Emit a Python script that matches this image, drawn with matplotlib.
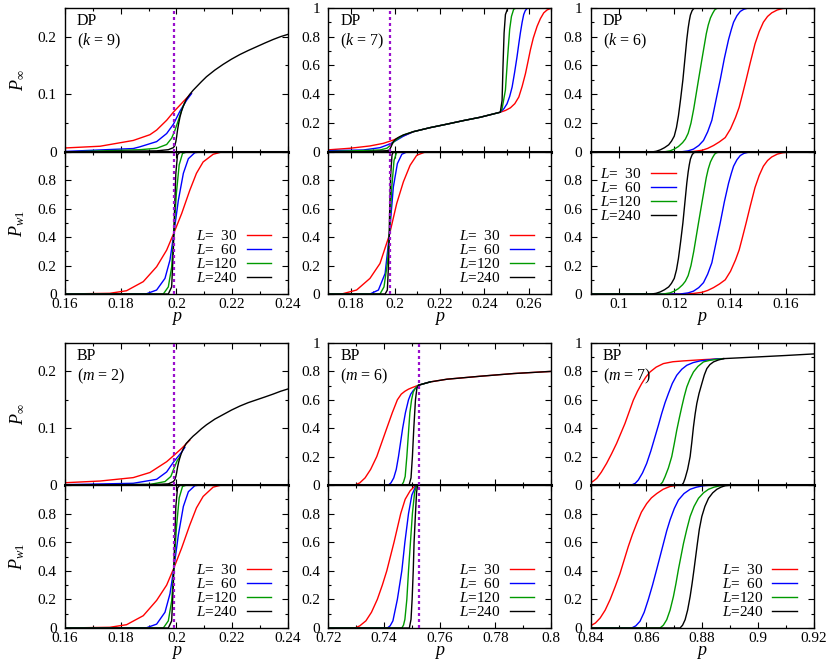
import numpy as np
import matplotlib.pyplot as plt
from matplotlib.ticker import MultipleLocator, FuncFormatter

plt.rcParams['font.family'] = ['Liberation Serif', 'DejaVu Serif']
plt.rcParams['mathtext.fontset'] = 'custom'
plt.rcParams['mathtext.rm'] = 'Liberation Serif'
plt.rcParams['mathtext.it'] = 'Liberation Serif:italic'

SIZES = [30, 60, 120, 240]
COLORS = ['#ff0000', '#0000ff', '#009a00', '#000000']
PC_COLOR = '#9a10cc'

# ---- DP, k = 9 ----
DP9_INF_30 = [(0.16, 0.007), (0.1726, 0.010), (0.1845, 0.020), (0.1905, 0.030), (0.1929, 0.038),
              (0.1965, 0.055), (0.1989, 0.069), (0.2024, 0.087), (0.2054, 0.102)]
DP9_INF_60 = [(0.16, 0.001), (0.1845, 0.006), (0.1869, 0.009), (0.1929, 0.018), (0.1965, 0.032),
              (0.1989, 0.048), (0.2013, 0.071), (0.2037, 0.090), (0.2054, 0.101)]
DP9_INF_120 = [(0.16, 0.0), (0.1869, 0.004), (0.1929, 0.0064), (0.1965, 0.013), (0.1983, 0.024),
               (0.1995, 0.038), (0.2007, 0.055), (0.2019, 0.073), (0.2030, 0.086)]
DP9_INF_240 = [(0.16, 0.0), (0.1929, 0.002), (0.1971, 0.004), (0.1989, 0.0075), (0.1994, 0.011),
               (0.1998, 0.018), (0.2001, 0.027), (0.2004, 0.038), (0.2008, 0.049), (0.2013, 0.061),
               (0.2018, 0.070), (0.2024, 0.0785), (0.2035, 0.091), (0.2048, 0.100), (0.2060, 0.107),
               (0.2072, 0.113), (0.2090, 0.122), (0.2108, 0.1305), (0.2138, 0.142), (0.2168, 0.152),
               (0.2198, 0.161), (0.2228, 0.169), (0.2258, 0.176), (0.2288, 0.1825), (0.2318, 0.189),
               (0.2347, 0.195), (0.2374, 0.200), (0.2401, 0.204)]
DP9_W1_30 = [(0.16, 0.0), (0.1761, 0.005), (0.1821, 0.023), (0.1881, 0.087), (0.1929, 0.192),
             (0.1965, 0.309), (0.1991, 0.43), (0.2019, 0.567), (0.2048, 0.73), (0.2072, 0.85),
             (0.2096, 0.93), (0.2132, 0.984), (0.2162, 1.0), (0.24, 1.0)]
DP9_W1_60 = [(0.16, 0.0), (0.1893, 0.002), (0.1929, 0.028), (0.1959, 0.11), (0.1977, 0.24),
             (0.1991, 0.43), (0.2007, 0.66), (0.2025, 0.85), (0.2043, 0.953), (0.2066, 0.995),
             (0.2085, 1.0), (0.24, 1.0)]
DP9_W1_120 = [(0.16, 0.0), (0.1953, 0.0), (0.1971, 0.05), (0.1983, 0.19), (0.1991, 0.43),
              (0.2000, 0.71), (0.2010, 0.91), (0.2022, 0.99), (0.2037, 1.0), (0.24, 1.0)]
DP9_W1_240 = [(0.16, 0.0), (0.1971, 0.0), (0.1983, 0.05), (0.1989, 0.31), (0.1993, 0.57),
              (0.1998, 0.85), (0.2004, 0.98), (0.2013, 1.0), (0.24, 1.0)]

# ---- DP, k = 7 ----
DP7_INF_30 = [(0.17, 0.015), (0.1798, 0.026), (0.1887, 0.042), (0.1947, 0.060), (0.1992, 0.083),
              (0.2022, 0.102), (0.2082, 0.141), (0.2157, 0.169), (0.2232, 0.193), (0.2307, 0.218),
              (0.2382, 0.241), (0.2472, 0.276), (0.2495, 0.288), (0.2517, 0.306), (0.2537, 0.335),
              (0.2555, 0.381), (0.2570, 0.455), (0.2585, 0.544), (0.2596, 0.625), (0.2607, 0.708),
              (0.2620, 0.79), (0.2637, 0.871), (0.2652, 0.925), (0.2667, 0.965), (0.2682, 0.985),
              (0.2697, 0.995), (0.27, 1.0)]
DP7_INF_60 = [(0.17, 0.009), (0.1857, 0.014), (0.1932, 0.030), (0.1977, 0.056), (0.2008, 0.083),
              (0.2037, 0.110), (0.2082, 0.141), (0.2157, 0.169), (0.2232, 0.193), (0.2307, 0.218),
              (0.2382, 0.241), (0.2472, 0.276), (0.2488, 0.300), (0.2502, 0.334), (0.2514, 0.385),
              (0.2525, 0.45), (0.2536, 0.55), (0.2547, 0.66), (0.2555, 0.75), (0.2562, 0.825),
              (0.2570, 0.90), (0.2577, 0.953), (0.2584, 0.98), (0.2592, 0.995), (0.2605, 1.0), (0.27, 1.0)]
DP7_INF_120 = [(0.17, 0.003), (0.1932, 0.014), (0.1963, 0.026), (0.1981, 0.049), (0.2000, 0.079),
               (0.2020, 0.100), (0.2037, 0.118), (0.2082, 0.141), (0.2157, 0.169), (0.2232, 0.193),
               (0.2307, 0.218), (0.2382, 0.241), (0.2472, 0.276), (0.2480, 0.30), (0.2495, 0.43),
               (0.2505, 0.66), (0.2514, 0.85), (0.2522, 0.94), (0.2532, 0.99), (0.2545, 1.0), (0.27, 1.0)]
DP7_INF_240 = [(0.17, 0.0), (0.1857, 0.002), (0.1963, 0.009), (0.1974, 0.014), (0.1982, 0.037),
               (0.1987, 0.056), (0.1992, 0.072), (0.2000, 0.086), (0.2008, 0.095), (0.2020, 0.106),
               (0.2037, 0.118), (0.2082, 0.141), (0.2157, 0.169), (0.2232, 0.193), (0.2307, 0.218),
               (0.2382, 0.241), (0.2472, 0.276), (0.2480, 0.357), (0.2484, 0.591), (0.2489, 0.825),
               (0.2495, 0.953), (0.2505, 0.995), (0.2515, 1.0), (0.27, 1.0)]
DP7_W1_30 = [(0.17, 0.0), (0.1760, 0.0), (0.1827, 0.028), (0.1887, 0.11), (0.1932, 0.215),
             (0.1974, 0.415), (0.2007, 0.637), (0.2037, 0.79), (0.2067, 0.906), (0.2097, 0.977),
             (0.2135, 1.0), (0.27, 1.0)]
DP7_W1_60 = [(0.17, 0.0), (0.1887, 0.0), (0.1925, 0.028), (0.1955, 0.145), (0.1974, 0.415),
             (0.1992, 0.754), (0.2010, 0.918), (0.2030, 0.984), (0.2052, 1.0), (0.27, 1.0)]
DP7_W1_120 = [(0.17, 0.0), (0.1932, 0.0), (0.1950, 0.05), (0.1965, 0.215), (0.1974, 0.415),
              (0.1985, 0.754), (0.1995, 0.94), (0.2007, 1.0), (0.27, 1.0)]
DP7_W1_240 = [(0.17, 0.0), (0.1955, 0.0), (0.1965, 0.028), (0.1971, 0.23), (0.1975, 0.56),
              (0.1980, 0.84), (0.1986, 0.98), (0.1992, 1.0), (0.27, 1.0)]

# ---- DP, k = 6 (P_inf and P_w1 read the same) ----
DP6_30 = [(0.09, 0.0), (0.1240, 0.0), (0.1270, 0.004), (0.1300, 0.012), (0.1320, 0.025), (0.1341, 0.045),
          (0.1362, 0.07), (0.1383, 0.10), (0.1402, 0.16), (0.1420, 0.24), (0.1433, 0.31), (0.1445, 0.40),
          (0.1458, 0.50), (0.1473, 0.62), (0.1490, 0.75), (0.1505, 0.835), (0.1520, 0.90), (0.1535, 0.94),
          (0.1550, 0.965), (0.1570, 0.985), (0.1590, 0.995), (0.1620, 1.0), (0.17, 1.0)]
DP6_60 = [(0.09, 0.0), (0.1221, 0.0), (0.1250, 0.008), (0.1269, 0.02), (0.1288, 0.045), (0.1305, 0.08),
          (0.1320, 0.14), (0.1335, 0.22), (0.1352, 0.38), (0.1365, 0.50), (0.1380, 0.65), (0.1395, 0.78),
          (0.1405, 0.85), (0.1413, 0.90), (0.1425, 0.945), (0.1437, 0.975), (0.1450, 0.99), (0.1465, 0.998),
          (0.1480, 1.0), (0.17, 1.0)]
DP6_120 = [(0.09, 0.0), (0.1161, 0.0), (0.1185, 0.008), (0.1200, 0.02), (0.1215, 0.038), (0.1230, 0.065),
           (0.1240, 0.09), (0.1250, 0.13), (0.1260, 0.20), (0.1270, 0.30), (0.1287, 0.50), (0.1300, 0.65),
           (0.1315, 0.82), (0.1322, 0.88), (0.1330, 0.93), (0.1338, 0.962), (0.1345, 0.985), (0.1352, 0.995),
           (0.1362, 1.0), (0.17, 1.0)]
DP6_240 = [(0.09, 0.0), (0.1119, 0.0), (0.1135, 0.005), (0.1150, 0.015), (0.1165, 0.03), (0.1180, 0.05),
           (0.1190, 0.075), (0.1200, 0.11), (0.1208, 0.17), (0.1215, 0.25), (0.1223, 0.37), (0.1231, 0.50),
           (0.1240, 0.68), (0.1245, 0.78), (0.1250, 0.86), (0.1254, 0.91), (0.1258, 0.95), (0.1264, 0.98),
           (0.1270, 0.995), (0.1280, 1.0), (0.17, 1.0)]

# ---- BP, m = 2 ----
BP2_INF_30 = [(0.16, 0.004), (0.1726, 0.007), (0.1845, 0.013), (0.1905, 0.022), (0.1965, 0.041),
              (0.1993, 0.053), (0.2020, 0.065), (0.2048, 0.079)]
BP2_INF_60 = [(0.16, 0.0006), (0.1845, 0.003), (0.1929, 0.010), (0.1965, 0.023), (0.1989, 0.040),
              (0.2019, 0.058), (0.2030, 0.066)]
BP2_INF_120 = [(0.16, 0.0), (0.1905, 0.001), (0.1959, 0.006), (0.1980, 0.015), (0.1991, 0.029),
               (0.2003, 0.043), (0.2013, 0.050)]
BP2_INF_240 = [(0.16, 0.0), (0.1930, 0.001), (0.1971, 0.002), (0.1989, 0.006), (0.1994, 0.009),
               (0.1998, 0.015), (0.2001, 0.022), (0.2004, 0.031), (0.2008, 0.040), (0.2013, 0.049),
               (0.2018, 0.056), (0.2024, 0.063), (0.2035, 0.073), (0.2048, 0.080), (0.2060, 0.086),
               (0.2072, 0.091), (0.2090, 0.099), (0.2108, 0.106), (0.2138, 0.116), (0.2168, 0.124),
               (0.2198, 0.132), (0.2228, 0.139), (0.2258, 0.145), (0.2288, 0.150), (0.2318, 0.155),
               (0.2347, 0.160), (0.2374, 0.165), (0.24, 0.169)]
BP2_W1_30 = [(0.16, 0.0), (0.1761, 0.005), (0.1821, 0.023), (0.1881, 0.086), (0.1929, 0.193),
             (0.1965, 0.30), (0.1991, 0.42), (0.2019, 0.56), (0.2048, 0.72), (0.2072, 0.84),
             (0.2096, 0.92), (0.2132, 0.985), (0.2162, 1.0), (0.24, 1.0)]
BP2_W1_60 = [(0.16, 0.0), (0.1893, 0.002), (0.1929, 0.027), (0.1959, 0.11), (0.1977, 0.24),
             (0.1991, 0.42), (0.2007, 0.65), (0.2025, 0.85), (0.2043, 0.953), (0.2066, 0.995),
             (0.2085, 1.0), (0.24, 1.0)]
BP2_W1_120 = [(0.16, 0.0), (0.1953, 0.0), (0.1971, 0.05), (0.1983, 0.19), (0.1991, 0.42),
              (0.2000, 0.70), (0.2010, 0.91), (0.2022, 0.99), (0.2037, 1.0), (0.24, 1.0)]
BP2_W1_240 = [(0.16, 0.0), (0.1971, 0.0), (0.1983, 0.05), (0.1989, 0.30), (0.1993, 0.56),
              (0.1998, 0.85), (0.2004, 0.98), (0.2013, 1.0), (0.24, 1.0)]

# ---- BP, m = 6 ----
BP6_INF_30 = [(0.72, 0.0), (0.7296, 0.0), (0.7313, 0.015), (0.7332, 0.05), (0.7352, 0.11), (0.7374, 0.20),
              (0.7392, 0.30), (0.7410, 0.40), (0.7430, 0.51), (0.7448, 0.60), (0.7462, 0.64), (0.7475, 0.66),
              (0.7488, 0.675), (0.7500, 0.685), (0.7524, 0.703), (0.7566, 0.726), (0.7626, 0.745),
              (0.7746, 0.766), (0.7866, 0.785), (0.80, 0.80)]
BP6_INF_60 = [(0.72, 0.0), (0.7416, 0.0), (0.7425, 0.015), (0.7435, 0.05), (0.7444, 0.11), (0.7452, 0.20),
              (0.7467, 0.40), (0.7477, 0.51), (0.7488, 0.60), (0.7496, 0.64), (0.7505, 0.665),
              (0.7524, 0.703), (0.7566, 0.726)]
BP6_INF_120 = [(0.72, 0.0), (0.7464, 0.0), (0.7470, 0.02), (0.7476, 0.06), (0.7482, 0.20), (0.7489, 0.40),
               (0.7493, 0.51), (0.7499, 0.60), (0.7505, 0.655), (0.7512, 0.68), (0.7524, 0.703),
               (0.7566, 0.726)]
BP6_INF_240 = [(0.72, 0.0), (0.7490, 0.0), (0.7497, 0.05), (0.7502, 0.20), (0.7507, 0.40), (0.7510, 0.50),
               (0.7513, 0.60), (0.7518, 0.68), (0.7524, 0.703), (0.7566, 0.726), (0.7626, 0.745),
               (0.7746, 0.766), (0.7866, 0.785), (0.80, 0.80)]
BP6_W1_30 = [(0.72, 0.0), (0.7296, 0.0), (0.7313, 0.015), (0.7335, 0.05), (0.7355, 0.11), (0.7376, 0.20),
             (0.7394, 0.30), (0.7410, 0.40), (0.7423, 0.50), (0.7436, 0.60), (0.7448, 0.70), (0.7460, 0.80),
             (0.7476, 0.90), (0.7494, 0.96), (0.7507, 0.985), (0.7520, 1.0), (0.80, 1.0)]
BP6_W1_60 = [(0.72, 0.0), (0.7412, 0.0), (0.7422, 0.015), (0.7432, 0.05), (0.7448, 0.20), (0.7464, 0.40),
             (0.7475, 0.60), (0.7488, 0.80), (0.7500, 0.93), (0.7516, 1.0), (0.80, 1.0)]
BP6_W1_120 = [(0.72, 0.0), (0.7464, 0.0), (0.7470, 0.02), (0.7475, 0.06), (0.7482, 0.20), (0.7488, 0.40),
              (0.7495, 0.60), (0.7502, 0.80), (0.7510, 0.95), (0.7518, 1.0), (0.80, 1.0)]
BP6_W1_240 = [(0.72, 0.0), (0.7491, 0.0), (0.7497, 0.06), (0.7501, 0.20), (0.7505, 0.40), (0.7508, 0.60),
              (0.7513, 0.80), (0.7517, 0.95), (0.7521, 1.0), (0.80, 1.0)]

# ---- BP, m = 7 ----
BP7_INF_30 = [(0.84, 0.016), (0.8410, 0.028), (0.8422, 0.047), (0.8438, 0.09), (0.8457, 0.152),
              (0.8475, 0.22), (0.8493, 0.293), (0.8523, 0.433), (0.8538, 0.515), (0.8553, 0.597),
              (0.8568, 0.66), (0.8583, 0.714), (0.8598, 0.76), (0.8613, 0.796), (0.8635, 0.83),
              (0.8661, 0.855), (0.8695, 0.868), (0.8733, 0.874), (0.8805, 0.883), (0.8877, 0.890)]
BP7_INF_60 = [(0.84, 0.0), (0.8547, 0.0), (0.8560, 0.012), (0.8571, 0.035), (0.8586, 0.085), (0.8601, 0.152),
              (0.8616, 0.24), (0.8631, 0.34), (0.8643, 0.42), (0.8655, 0.504), (0.8667, 0.58),
              (0.8679, 0.644), (0.8693, 0.715), (0.8709, 0.773), (0.8727, 0.815), (0.8745, 0.843),
              (0.8768, 0.862), (0.8793, 0.874), (0.8853, 0.888), (0.8877, 0.890)]
BP7_INF_120 = [(0.84, 0.0), (0.8649, 0.0), (0.8658, 0.02), (0.8667, 0.059), (0.8679, 0.12), (0.8691, 0.20),
               (0.8700, 0.29), (0.8709, 0.386), (0.8718, 0.47), (0.8727, 0.55), (0.8736, 0.625),
               (0.8745, 0.69), (0.8756, 0.745), (0.8769, 0.796), (0.8785, 0.835), (0.8805, 0.867),
               (0.8828, 0.878), (0.8853, 0.885), (0.8877, 0.890)]
BP7_INF_240 = [(0.84, 0.0), (0.8727, 0.0), (0.8733, 0.015), (0.8739, 0.047), (0.8748, 0.11), (0.8757, 0.20),
               (0.8763, 0.30), (0.8769, 0.41), (0.8775, 0.50), (0.8781, 0.574), (0.8789, 0.645),
               (0.8799, 0.714), (0.8808, 0.775), (0.8817, 0.82), (0.8828, 0.848), (0.8841, 0.867),
               (0.8858, 0.880), (0.8877, 0.890), (0.90, 0.902), (0.91, 0.912), (0.92, 0.923)]
BP7_W1_30 = [(0.84, 0.016), (0.8417, 0.035), (0.8434, 0.07), (0.8452, 0.125), (0.8470, 0.20),
             (0.8488, 0.29), (0.8505, 0.38), (0.8520, 0.475), (0.8535, 0.57), (0.8550, 0.655),
             (0.8565, 0.73), (0.8582, 0.81), (0.8601, 0.87), (0.8618, 0.91), (0.8637, 0.94),
             (0.8660, 0.97), (0.8685, 0.99), (0.8710, 0.998), (0.8733, 1.0), (0.92, 1.0)]
BP7_W1_60 = [(0.84, 0.0), (0.8547, 0.0), (0.8562, 0.015), (0.8577, 0.047), (0.8592, 0.11), (0.8607, 0.20),
             (0.8622, 0.30), (0.8637, 0.41), (0.8649, 0.50), (0.8661, 0.59), (0.8673, 0.68),
             (0.8685, 0.756), (0.8700, 0.835), (0.8715, 0.895), (0.8735, 0.94), (0.8757, 0.97),
             (0.8780, 0.985), (0.8805, 0.995), (0.8840, 1.0), (0.92, 1.0)]
BP7_W1_120 = [(0.84, 0.0), (0.8649, 0.0), (0.8661, 0.02), (0.8673, 0.058), (0.8685, 0.125), (0.8697, 0.22),
              (0.8706, 0.31), (0.8715, 0.41), (0.8724, 0.50), (0.8733, 0.59), (0.8745, 0.69),
              (0.8757, 0.78), (0.8771, 0.85), (0.8787, 0.907), (0.8805, 0.945), (0.8823, 0.97),
              (0.8843, 0.985), (0.8865, 0.995), (0.8900, 1.0), (0.92, 1.0)]
BP7_W1_240 = [(0.84, 0.0), (0.8721, 0.0), (0.8730, 0.02), (0.8739, 0.058), (0.8748, 0.125), (0.8757, 0.22),
              (0.8764, 0.31), (0.8771, 0.41), (0.8777, 0.50), (0.8783, 0.59), (0.8790, 0.69),
              (0.8799, 0.78), (0.8810, 0.85), (0.8823, 0.907), (0.8838, 0.945), (0.8853, 0.97),
              (0.8868, 0.985), (0.8883, 0.995), (0.8910, 1.0), (0.92, 1.0)]

PANELS = [
    dict(row=0, col=0, model='DP', par='($k$ = 9)', xlim=(0.16, 0.24), ytop=(0, 0.25), pc=0.1993,
         inf=[DP9_INF_30, DP9_INF_60, DP9_INF_120, DP9_INF_240],
         w1=[DP9_W1_30, DP9_W1_60, DP9_W1_120, DP9_W1_240], leg='lr'),
    dict(row=0, col=1, model='DP', par='($k$ = 7)', xlim=(0.17, 0.27), ytop=(0, 1), pc=0.1977,
         inf=[DP7_INF_30, DP7_INF_60, DP7_INF_120, DP7_INF_240],
         w1=[DP7_W1_30, DP7_W1_60, DP7_W1_120, DP7_W1_240], leg='lr'),
    dict(row=0, col=2, model='DP', par='($k$ = 6)', xlim=(0.09, 0.17), ytop=(0, 1), pc=None,
         inf=[DP6_30, DP6_60, DP6_120, DP6_240],
         w1=[DP6_30, DP6_60, DP6_120, DP6_240], leg='ul'),
    dict(row=1, col=0, model='BP', par='($m$ = 2)', xlim=(0.16, 0.24), ytop=(0, 0.25), pc=0.1993,
         inf=[BP2_INF_30, BP2_INF_60, BP2_INF_120, BP2_INF_240],
         w1=[BP2_W1_30, BP2_W1_60, BP2_W1_120, BP2_W1_240], leg='lr'),
    dict(row=1, col=1, model='BP', par='($m$ = 6)', xlim=(0.72, 0.80), ytop=(0, 1), pc=0.7524,
         inf=[BP6_INF_30, BP6_INF_60, BP6_INF_120, BP6_INF_240],
         w1=[BP6_W1_30, BP6_W1_60, BP6_W1_120, BP6_W1_240], leg='lr'),
    dict(row=1, col=2, model='BP', par='($m$ = 7)', xlim=(0.84, 0.92), ytop=(0, 1), pc=None,
         inf=[BP7_INF_30, BP7_INF_60, BP7_INF_120, BP7_INF_240],
         w1=[BP7_W1_30, BP7_W1_60, BP7_W1_120, BP7_W1_240], leg='lr'),
]

W, H = 830, 667
COL_LEFT = [65, 328.3, 590.7]
COL_W = 222.8
ROW_Y = [(7.8, 152, 294), (343, 485, 628)]   # top edge, split, bottom edge (pixels)


def fmt(v, _):
    return f'{v:g}'


def fmt_no_one(v, _):
    return '' if v > 0.99 else f'{v:g}'


def style(ax, xlim, ylim, ymaj, show_x, yformatter):
    ax.set_xlim(*xlim)
    ax.set_ylim(*ylim)
    ax.xaxis.set_major_locator(MultipleLocator(0.02))
    ax.xaxis.set_minor_locator(MultipleLocator(0.01))
    ax.yaxis.set_major_locator(MultipleLocator(ymaj))
    ax.yaxis.set_minor_locator(MultipleLocator(ymaj / 2))
    ax.xaxis.set_major_formatter(FuncFormatter(fmt))
    ax.yaxis.set_major_formatter(FuncFormatter(yformatter))
    ax.tick_params(which='both', direction='in', top=True, right=True, labelsize=11,
                   width=0.8, labelbottom=show_x)
    ax.tick_params(which='major', length=4)
    ax.tick_params(which='minor', length=2)
    ax.tick_params(axis='y', pad=6)
    ax.tick_params(axis='x', pad=3)
    for s in ax.spines.values():
        s.set_linewidth(1.0)


def draw(ax, curves):
    for c, col, L in zip(curves, COLORS, SIZES):
        x, y = np.array(c).T
        ax.plot(x, y, color=col, lw=1.0, label=f'$L$={L:>3d}'.replace(' ', '  '))


fig = plt.figure(figsize=(W / 100, H / 100), dpi=100)

for pnl in PANELS:
    top, mid, bot = ROW_Y[pnl['row']]
    left = COL_LEFT[pnl['col']] / W
    ax_t = fig.add_axes([left, 1 - mid / H, COL_W / W, (mid - top) / H])
    ax_b = fig.add_axes([left, 1 - bot / H, COL_W / W, (bot - mid) / H])

    ymaj = 0.1 if pnl['ytop'][1] < 0.5 else 0.2
    style(ax_t, pnl['xlim'], pnl['ytop'], ymaj, False, fmt)
    style(ax_b, pnl['xlim'], (0, 1), 0.2, True, fmt_no_one)
    ax_t.spines['bottom'].set_linewidth(2.2)

    draw(ax_t, pnl['inf'])
    draw(ax_b, pnl['w1'])

    if pnl['pc'] is not None:
        for ax in (ax_t, ax_b):
            ax.axvline(pnl['pc'], color=PC_COLOR, lw=1.6, ls=(0, (1.35, 1.35)), zorder=5)

    ax_t.text(0.054, 0.965, pnl['model'], transform=ax_t.transAxes, ha='left', va='top', fontsize=11.5)
    ax_t.text(0.054, 0.835, pnl['par'], transform=ax_t.transAxes, ha='left', va='top', fontsize=11.5)

    ax_b.set_xlabel('$p$', fontsize=13, labelpad=-1)
    if pnl['col'] == 0:
        ax_t.set_ylabel(r'$P_\infty$', fontsize=13, labelpad=8)
        ax_b.set_ylabel(r'$P_{w1}$', fontsize=13, labelpad=8)

    leg_kw = dict(frameon=False, markerfirst=False, fontsize=11, handlelength=1.6,
                  handletextpad=0.6, labelspacing=0.0, borderpad=0, borderaxespad=0)
    if pnl['leg'] == 'lr':
        ax_b.legend(loc='lower right', bbox_to_anchor=(0.925, 0.061), **leg_kw)
    else:
        ax_b.legend(loc='upper left', bbox_to_anchor=(0.043, 0.895), **leg_kw)

fig.savefig('out.png', dpi=100)
